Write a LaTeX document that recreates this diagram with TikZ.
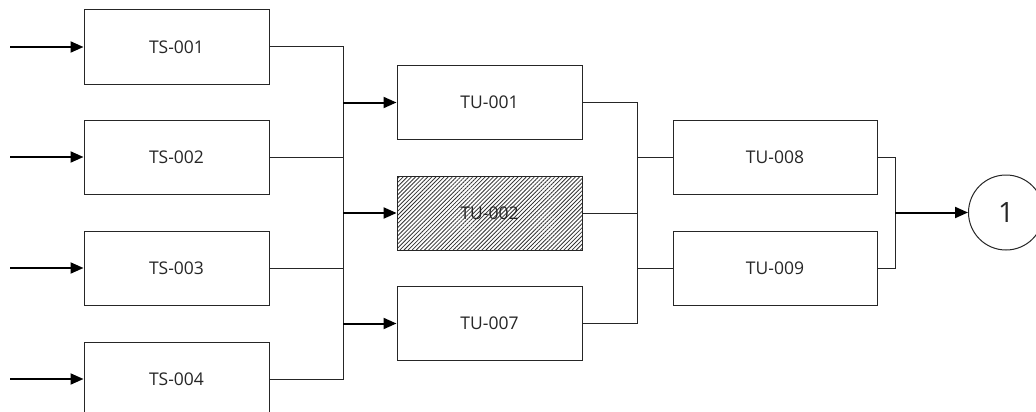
\documentclass[tikz,border=0pt]{standalone}
\usepackage{fontspec}
\setmainfont{Open Sans}
\usetikzlibrary{arrows.meta,patterns.meta}
\tikzset{
  blk/.style={draw=black!85, line width=1pt, fill=white, inner sep=0pt, minimum height=74pt, font=\fontsize{17.5}{20}\selectfont, text=black!85},
  tsbox/.style={blk, minimum width=185pt},
  tubox/.style={blk, minimum width=185pt},
  tuwide/.style={blk, minimum width=204pt},
  hatched/.style={pattern={Lines[angle=45,distance=2.9pt,line width=0.8pt]}, pattern color=black!80},
  wire/.style={draw=black!85, line width=1pt},
  arr/.style={draw=black, line width=2pt, -{Triangle[length=13pt,width=11pt]}},
  outc/.style={draw=black!85, line width=1pt, circle, minimum size=75pt, inner sep=0pt, font=\fontsize{28}{30}\selectfont, text=black!85}
}
\begin{document}
\begin{tikzpicture}[x=1pt,y=-1pt]
\useasboundingbox (0,0) rectangle (1036,412);
\clip (0,0) rectangle (1036,412);
\fill[white] (0,0) rectangle (1036,412);
% TS column
\node[tsbox] (ts1) at (176.5,47) {TS-001};
\node[tsbox] (ts2) at (176.5,157) {TS-002};
\node[tsbox] (ts3) at (176.5,268) {TS-003};
\node[tsbox] (ts4) at (176.5,379) {TS-004};
\coordinate (in1) at (10,47);
\coordinate (in2) at (10,157);
\coordinate (in3) at (10,268);
\coordinate (in4) at (10,379);
\draw[arr] (in1) -- (ts1.west);
\draw[arr] (in2) -- (ts2.west);
\draw[arr] (in3) -- (ts3.west);
\draw[arr] (in4) -- (ts4.west);
% TU column
\node[tubox] (tu1) at (489.5,102.5) {TU-001};
\node[tubox,hatched] (tu2) at (489.5,213) {TU-002};
\node[tubox] (tu7) at (489.5,323.5) {TU-007};
% bus A
\coordinate (ja1) at (343,47);
\coordinate (ja4) at (343,379);
\draw[wire] (ts1.east) -- (ja1) -- (ja4) -- (ts4.east);
\draw[wire] (ts2.east) -- (ts2.east -| ja1);
\draw[wire] (ts3.east) -- (ts3.east -| ja1);
\draw[arr] (tu1.west -| ja1) -- (tu1.west);
\draw[arr] (tu2.west -| ja1) -- (tu2.west);
\draw[arr] (tu7.west -| ja1) -- (tu7.west);
% second stage
\node[tuwide] (tu8) at (775,157.5) {TU-008};
\node[tuwide] (tu9) at (775,268) {TU-009};
\coordinate (jb1) at (637.5,102.5);
\coordinate (jb2) at (637.5,323.5);
\draw[wire] (tu1.east) -- (jb1) -- (jb2) -- (tu7.east);
\draw[wire] (tu2.east) -- (tu2.east -| jb1);
\draw[wire] (tu8.west -| jb1) -- (tu8.west);
\draw[wire] (tu9.west -| jb1) -- (tu9.west);
% output
\node[outc] (o1) at (1006,212.5) {1};
\coordinate (jc1) at (895,157.5);
\coordinate (jc2) at (895,268);
\draw[wire] (tu8.east) -- (jc1) -- (jc2) -- (tu9.east);
\draw[arr] (o1.west -| jc1) -- (o1.west);
\end{tikzpicture}
\end{document}
